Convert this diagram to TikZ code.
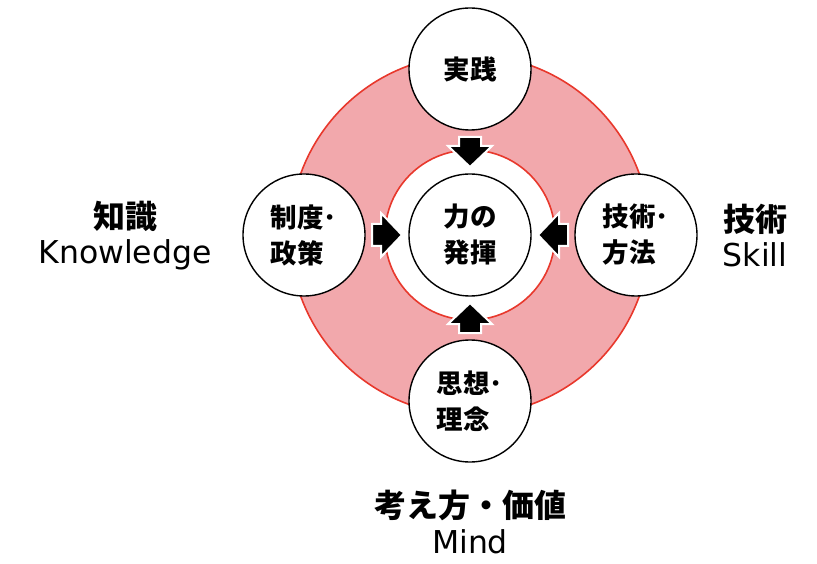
\documentclass[tikz,border=0pt]{standalone}
\usepackage{fontspec}
\setmainfont{Noto Sans CJK JP}
\newfontfamily\latinlab{DejaVu Sans}
\usetikzlibrary{calc}
\definecolor{ringfill}{RGB}{242,168,172}
\definecolor{ringline}{RGB}{232,56,44}
\tikzset{
  sat/.style={circle, draw=black, line width=1.4pt, fill=white, minimum size=122pt, inner sep=0pt,
    align=left, font=\fontsize{26.5}{36}\selectfont\bfseries},
  lab/.style={align=center, inner sep=0pt},
  blockarrow/.pic={\filldraw[fill=black, draw=white, line width=2pt, line join=miter]
     (0,-11) -- (9,-11) -- (9,-22) -- (30,0) -- (9,22) -- (9,11) -- (0,11) -- cycle;}
}
\newcommand{\jplab}[1]{{\fontsize{32}{32}\selectfont\bfseries #1}}
\newcommand{\enlab}[1]{{\latinlab\fontsize{31.5}{32}\selectfont #1}}
\begin{document}
\begin{tikzpicture}[x=1pt,y=-1pt]
\useasboundingbox (0,0) rectangle (817,564);
\coordinate (o) at (470,235);
% ring
\filldraw[fill=ringfill, draw=ringline, line width=1.6pt] (o) circle (180);
\filldraw[fill=white, draw=ringline, line width=1.6pt] (o) circle (85);
% nodes
\node[sat, align=center] (ctr) at (o) {力の\\発揮};
\node[sat, align=center] (top) at (470,69) {実践};
\node[sat] (left) at (304,235) {制度･\\政策};
\node[sat] (right) at (636,235) {技術･\\方法};
\node[sat] (bot) at (470,401) {思想･\\理念};
% block arrows from satellites to centre
\pic[rotate=-90] at ($(ctr.center)!98pt!(top.center)$) {blockarrow};
\pic[rotate=90] at ($(ctr.center)!98pt!(bot.center)$) {blockarrow};
\pic[rotate=0] at ($(ctr.center)!98pt!(left.center)$) {blockarrow};
\pic[rotate=180] at ($(ctr.center)!98pt!(right.center)$) {blockarrow};
% labels
\node[lab] (lk) at (125,236) {\jplab{知識}\\[7pt]\enlab{Knowledge}};
\node[lab] (ls) at (755,236) {\jplab{技術}\\[7pt]\enlab{Skill}};
\node[lab] (lm) at (470,522) {\jplab{考え方・価値}\\[7pt]\enlab{Mind}};
\end{tikzpicture}
\end{document}
